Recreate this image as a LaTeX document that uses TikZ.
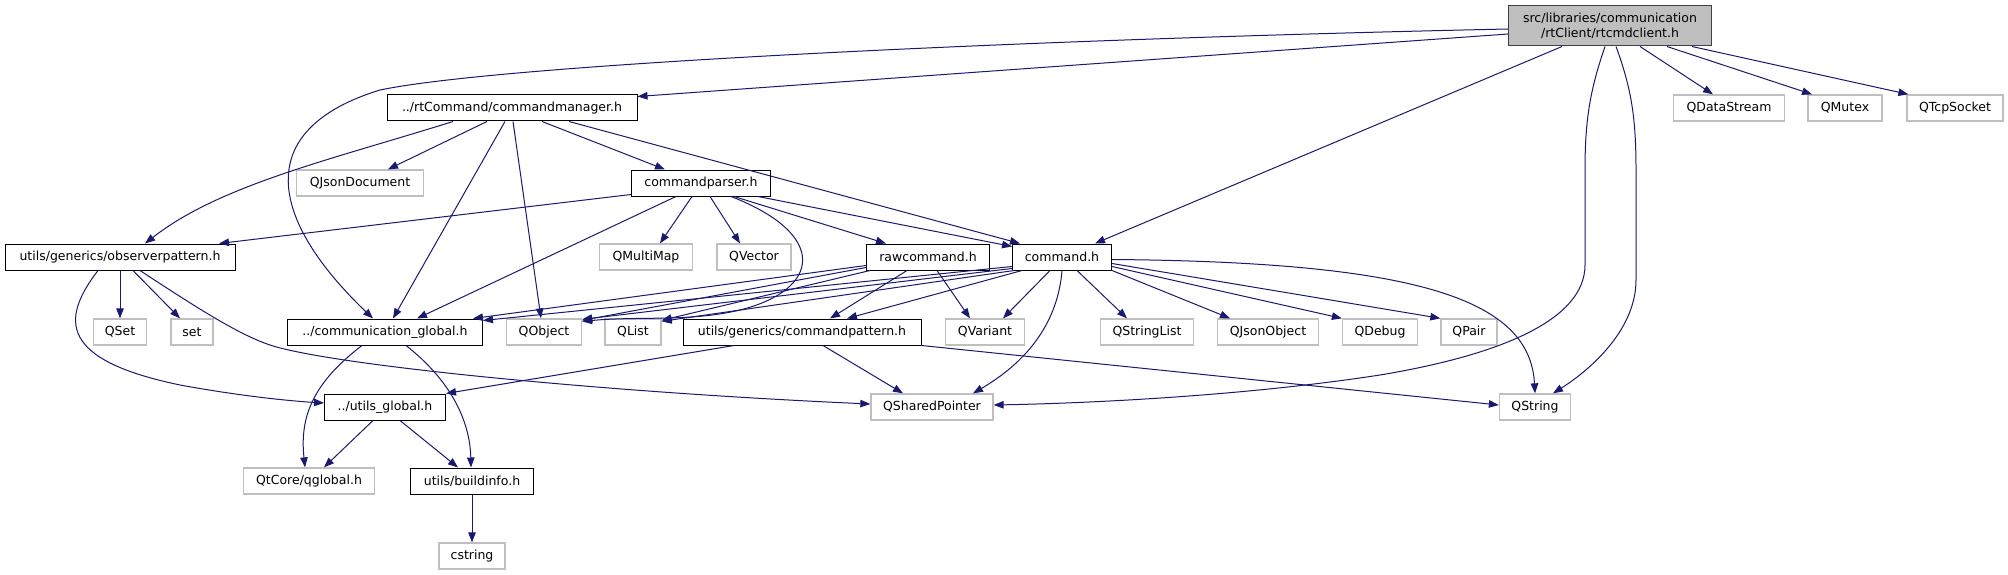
\documentclass[tikz,border=0pt]{standalone}
\usepackage{fontspec}
\setmainfont{DejaVu Sans}
\usetikzlibrary{arrows.meta}
\definecolor{edgec}{RGB}{25,25,112}
\definecolor{extc}{RGB}{191,191,191}
\definecolor{rootf}{RGB}{191,191,191}
\definecolor{bordc}{RGB}{64,64,64}
\begin{document}
\begin{tikzpicture}[x=1pt,y=-1pt,
 box/.style={rectangle,inner sep=0pt,minimum height=26pt,font=\fontsize{12.5}{15}\selectfont,line width=1pt},
 loc/.style={box,draw=black,fill=white},
 ext/.style={box,draw=extc,fill=white,line width=1.3pt},
 rootbox/.style={box,draw=bordc,fill=rootf,align=center,minimum height=40pt},
 e/.style={draw=edgec,line width=1pt,-{Triangle[length=10pt,width=7.5pt]}}
]
\useasboundingbox[fill=white] (0,0) rectangle (2008,575);
% nodes
\node[rootbox,minimum width=203pt] (root) at (1610,26) {src/libraries/communication\\/rtClient/rtcmdclient.h};
\node[loc,minimum width=250pt] (cmdmgr) at (512,108) {../rtCommand/commandmanager.h};
\node[ext,minimum width=111pt] (QDataStream) at (1729,108) {QDataStream};
\node[ext,minimum width=74pt] (QMutex) at (1845,108) {QMutex};
\node[ext,minimum width=96pt] (QTcpSocket) at (1955,108) {QTcpSocket};
\node[ext,minimum width=127pt] (QJsonDocument) at (360,183) {QJsonDocument};
\node[loc,minimum width=139pt] (cmdparser) at (701,183) {commandparser.h};
\node[loc,minimum width=230pt] (observer) at (120,257) {utils/generics/observerpattern.h};
\node[ext,minimum width=93pt] (QMultiMap) at (646,257) {QMultiMap};
\node[ext,minimum width=74pt] (QVector) at (754,257) {QVector};
\node[loc,minimum width=123pt] (rawcmd) at (928,257) {rawcommand.h};
\node[loc,minimum width=99pt] (cmd) at (1062,257) {command.h};
\node[ext,minimum width=53pt] (QSet) at (120,332) {QSet};
\node[ext,minimum width=42pt] (set) at (192,332) {set};
\node[loc,minimum width=195pt] (commglobal) at (385,332) {../communication\_global.h};
\node[ext,minimum width=75pt] (QObject) at (544,332) {QObject};
\node[ext,minimum width=56pt] (QList) at (633,332) {QList};
\node[loc,minimum width=238pt] (cmdpattern) at (802,332) {utils/generics/commandpattern.h};
\node[ext,minimum width=79pt] (QVariant) at (985,332) {QVariant};
\node[ext,minimum width=93pt] (QStringList) at (1147,332) {QStringList};
\node[ext,minimum width=101pt] (QJsonObject) at (1268,332) {QJsonObject};
\node[ext,minimum width=75pt] (QDebug) at (1380,332) {QDebug};
\node[ext,minimum width=56pt] (QPair) at (1469,332) {QPair};
\node[loc,minimum width=121pt] (utilsglobal) at (385,407) {../utils\_global.h};
\node[ext,minimum width=122pt] (QSharedPointer) at (932,407) {QSharedPointer};
\node[ext,minimum width=71pt] (QString) at (1535,407) {QString};
\node[ext,minimum width=131pt] (qglobal) at (309,481) {QtCore/qglobal.h};
\node[loc,minimum width=123pt] (buildinfo) at (472,481) {utils/buildinfo.h};
\node[ext,minimum width=66pt] (cstring) at (472,556) {cstring};
% root edges
\draw[e] ([yshift=-8pt]root.west) -- ([yshift=-2pt]cmdmgr.north east);
\draw[e] ([yshift=-3pt]root.west) .. controls (1000,40) and (500,65) .. (380,90) .. controls (250,130) and (270,220) .. ([xshift=-12pt]commglobal.north);
\draw[e] ([xshift=-48pt]root.south) -- ([xshift=33pt]cmd.north);
\draw[e] ([xshift=30pt]root.south) -- ([xshift=-16pt]QDataStream.north);
\draw[e] ([xshift=57pt]root.south) -- ([xshift=-33pt]QMutex.north);
\draw[e] ([xshift=82pt]root.south) -- ([xshift=2pt]QTcpSocket.north west);
\draw[e] ([xshift=-5pt]root.south) .. controls (1590,90) and (1585,120) .. (1585,170) -- (1585,265) .. controls (1585,320) and (1500,355) .. (1380,375) .. controls (1250,395) and (1100,403) .. ([yshift=2pt]QSharedPointer.east);
\draw[e] ([xshift=6pt]root.south) .. controls (1632,90) and (1636,120) .. (1636,170) -- (1636,280) .. controls (1636,330) and (1590,370) .. ([xshift=18pt]QString.north);
% commandmanager edges
\draw[e] ([xshift=-59pt]cmdmgr.south) .. controls (330,160) and (220,185) .. ([xshift=25pt]observer.north);
\draw[e] ([xshift=-25pt]cmdmgr.south) -- ([xshift=28pt]QJsonDocument.north);
\draw[e] ([xshift=30pt]cmdmgr.south) -- ([xshift=-36pt]cmdparser.north);
\draw[e] ([xshift=57pt]cmdmgr.south) -- ([xshift=-42pt]cmd.north);
\draw[e] ([xshift=-7pt]cmdmgr.south) -- ([xshift=8pt]commglobal.north);
\draw[e] ([xshift=1pt]cmdmgr.south) -- ([xshift=-3pt]QObject.north);
% commandparser edges
\draw[e] ([yshift=2pt]cmdparser.south west) -- ([xshift=99pt]observer.north);
\draw[e] ([xshift=-25pt]cmdparser.south) -- ([xshift=32pt]commglobal.north);
\draw[e] ([xshift=-9pt]cmdparser.south) -- ([xshift=14pt]QMultiMap.north);
\draw[e] ([xshift=9pt]cmdparser.south) -- ([xshift=-14pt]QVector.north);
\draw[e] ([xshift=33pt]cmdparser.south) -- ([xshift=-42pt]rawcmd.north);
\draw[e] ([xshift=57pt]cmdparser.south) -- ([yshift=-3pt]cmd.north west);
\draw[e] ([xshift=30pt]cmdparser.south) .. controls (830,235) and (820,290) .. (740,310) .. controls (690,322) and (640,316) .. ([yshift=-3pt]QObject.north east);
% rawcommand edges
\draw[e] ([yshift=5pt]rawcmd.south west) -- ([xshift=-10pt]commglobal.north east);
\draw[e] ([yshift=3pt]rawcmd.south west) -- ([yshift=-2pt]QObject.north east);
\draw[e] ([xshift=4pt]rawcmd.south west) -- ([yshift=-2pt]QList.north east);
\draw[e] ([xshift=-21pt]rawcmd.south) -- ([xshift=28pt]cmdpattern.north);
\draw[e] ([xshift=9pt]rawcmd.south) -- ([xshift=-15pt]QVariant.north);
% command edges
\draw[e] ([yshift=4pt]cmd.south west) -- ([yshift=-2pt]commglobal.north east);
\draw[e] ([yshift=2pt]cmd.south west) -- ([yshift=-1pt]QObject.north east);
\draw[e] ([xshift=2pt]cmd.south west) -- ([yshift=-3pt]QList.north east);
\draw[e] ([xshift=-40pt]cmd.south) -- ([xshift=45pt]cmdpattern.north);
\draw[e] ([xshift=-12pt]cmd.south) -- ([xshift=18pt]QVariant.north);
\draw[e] (cmd.south) .. controls (1058,320) and (1030,360) .. ([xshift=41pt]QSharedPointer.north);
\draw[e] ([xshift=15pt]cmd.south) -- ([xshift=-20pt]QStringList.north);
\draw[e] (cmd.south east) -- ([xshift=-38pt]QJsonObject.north);
\draw[e] ([yshift=4pt]cmd.south east) -- (QDebug.north west);
\draw[e] ([yshift=7pt]cmd.south east) -- (QPair.north west);
\draw[e] ([yshift=11pt]cmd.south east) .. controls (1420,262) and (1530,300) .. (QString.north);
% commandpattern edges
\draw[e] ([xshift=-68pt]cmdpattern.south) -- (utilsglobal.north east);
\draw[e] ([xshift=21pt]cmdpattern.south) -- ([xshift=-29pt]QSharedPointer.north);
\draw[e] (cmdpattern.south east) -- ([yshift=2pt]QString.west);
% observerpattern edges
\draw[e] (observer.south) -- (QSet.north);
\draw[e] ([xshift=13pt]observer.south) -- ([xshift=-12pt]set.north);
\draw[e] ([xshift=-22pt]observer.south) .. controls (60,320) and (60,360) .. (180,385) .. controls (240,396) and (290,401) .. ([yshift=4pt]utilsglobal.west);
\draw[e] ([xshift=20pt]observer.south) .. controls (200,310) and (240,335) .. (270,345) .. controls (330,365) and (600,392) .. ([yshift=3pt]QSharedPointer.west);
% communication_global edges
\draw[e] ([xshift=-23pt]commglobal.south) .. controls (310,385) and (300,420) .. ([xshift=-4pt]qglobal.north);
\draw[e] ([xshift=21pt]commglobal.south) .. controls (450,380) and (470,420) .. ([xshift=-1pt]buildinfo.north);
% utils_global edges
\draw[e] ([xshift=-12pt]utilsglobal.south) -- ([xshift=15pt]qglobal.north);
\draw[e] ([xshift=15pt]utilsglobal.south) -- ([xshift=-14pt]buildinfo.north);
% buildinfo edge
\draw[e] (buildinfo) -- (cstring);
\end{tikzpicture}
\end{document}
